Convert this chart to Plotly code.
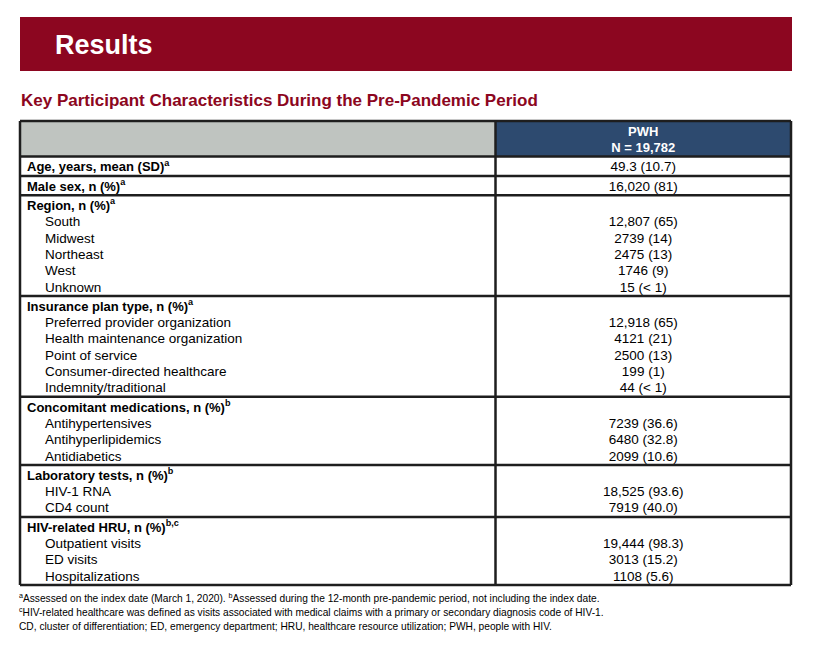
import plotly.graph_objects as go

# ---------------- data ----------------
col_header = ["PWH", "N = 19,782"]

group_titles = ["Age, years, mean (SD)", "Male sex, n (%)", "Region, n (%)",
                "Insurance plan type, n (%)", "Concomitant medications, n (%)",
                "Laboratory tests, n (%)", "HIV-related HRU, n (%)"]
group_notes = ["a", "a", "a", "a", "b", "b", "b,c"]
group_values = ["49.3 (10.7)", "16,020 (81)", "", "", "", "", ""]

region_labels = ["South", "Midwest", "Northeast", "West", "Unknown"]
region_values = ["12,807 (65)", "2739 (14)", "2475 (13)", "1746 (9)", "15 (< 1)"]

insurance_labels = ["Preferred provider organization", "Health maintenance organization",
                    "Point of service", "Consumer-directed healthcare", "Indemnity/traditional"]
insurance_values = ["12,918 (65)", "4121 (21)", "2500 (13)", "199 (1)", "44 (< 1)"]

medication_labels = ["Antihypertensives", "Antihyperlipidemics", "Antidiabetics"]
medication_values = ["7239 (36.6)", "6480 (32.8)", "2099 (10.6)"]

lab_labels = ["HIV-1 RNA", "CD4 count"]
lab_values = ["18,525 (93.6)", "7919 (40.0)"]

hru_labels = ["Outpatient visits", "ED visits", "Hospitalizations"]
hru_values = ["19,444 (98.3)", "3013 (15.2)", "1108 (5.6)"]

sub_labels = [[], [], region_labels, insurance_labels, medication_labels, lab_labels, hru_labels]
sub_values = [[], [], region_values, insurance_values, medication_values, lab_values, hru_values]

title_text = "Results"
subtitle_text = "Key Participant Characteristics During the Pre-Pandemic Period"
footnotes = [
    "<sup>a</sup>Assessed on the index date (March 1, 2020). <sup>b</sup>Assessed during the 12-month pre-pandemic period, not including the index date.",
    "<sup>c</sup>HIV-related healthcare was defined as visits associated with medical claims with a primary or secondary diagnosis code of HIV-1.",
    "CD, cluster of differentiation; ED, emergency department; HRU, healthcare resource utilization; PWH, people with HIV.",
]

# ---------------- layout / style ----------------
W, H = 822, 648
OFF = 8  # page body margin, so axis units equal screen pixels
FONT = "Liberation Sans, Arial, sans-serif"
RED = "#8c0620"
NAVY = "#2d4a6f"
GRAY = "#bfc4c0"
LINE = "#1e1e1e"

X0, X1, XC = 20, 791, 495.5
Y0 = 121
LH = 16.3
PAD = 3
LABEL_X, SUB_X = 27, 45
VAL_X = (XC + X1) / 2

# row boundaries derived from line counts
bounds = [Y0, Y0 + len(col_header) * LH + PAD]
for subs in sub_labels:
    bounds.append(bounds[-1] + (1 + len(subs)) * LH + PAD)

def line_y(top, i):
    return top + PAD / 2 + (i + 0.5) * LH + 1.8

hx, hy, ht = [], [], []
sx, sy, st = [], [], []
vx, vy, vt = [], [], []
for g, (t, n, v) in enumerate(zip(group_titles, group_notes, group_values)):
    top = bounds[g + 1]
    hy.append(line_y(top, 0)); hx.append(LABEL_X)
    ht.append(f"<b>{t}</b><sup><b>{n}</b></sup>")
    vy.append(line_y(top, 0)); vx.append(VAL_X); vt.append(v)
    for i, (sl, sv) in enumerate(zip(sub_labels[g], sub_values[g])):
        sy.append(line_y(top, i + 1)); sx.append(SUB_X); st.append(sl)
        vy.append(line_y(top, i + 1)); vx.append(VAL_X); vt.append(sv)

cy = [line_y(bounds[0], i) for i in range(len(col_header))]

fig = go.Figure()
common = dict(mode="text", hoverinfo="skip", cliponaxis=False, showlegend=False)
fig.add_trace(go.Scatter(x=hx, y=hy, text=ht, textposition="middle right",
                         textfont=dict(family=FONT, size=13, color="#000"), **common))
fig.add_trace(go.Scatter(x=sx, y=sy, text=st, textposition="middle right",
                         textfont=dict(family=FONT, size=13.5, color="#000"), **common))
fig.add_trace(go.Scatter(x=vx, y=vy, text=vt, textposition="middle center",
                         textfont=dict(family=FONT, size=13.5, color="#000"), **common))
fig.add_trace(go.Scatter(x=[VAL_X] * len(col_header), y=cy,
                         text=[f"<b>{c}</b>" for c in col_header], textposition="middle center",
                         textfont=dict(family=FONT, size=13, color="#fff"), **common))

shapes = []
# banner
shapes.append(dict(type="rect", x0=20, x1=792, y0=17, y1=71, fillcolor=RED,
                   line=dict(width=0), layer="below"))
# header fills
shapes.append(dict(type="rect", x0=X0, x1=XC, y0=bounds[0], y1=bounds[1], fillcolor=GRAY,
                   line=dict(width=0), layer="below"))
shapes.append(dict(type="rect", x0=XC, x1=X1, y0=bounds[0], y1=bounds[1], fillcolor=NAVY,
                   line=dict(width=0), layer="below"))
# horizontal rules
for b in bounds:
    shapes.append(dict(type="line", x0=X0, x1=X1, y0=b, y1=b, line=dict(color=LINE, width=2.5)))
# vertical rules
for xv in (X0, XC, X1):
    shapes.append(dict(type="line", x0=xv, x1=xv, y0=bounds[0], y1=bounds[-1],
                       line=dict(color=LINE, width=2.5)))

annotations = [
    dict(x=53, y=45, text=f"<b>{title_text}</b>", showarrow=False, xanchor="left",
         yanchor="middle", font=dict(family=FONT, size=27, color="#fff")),
    dict(x=19, y=100, text=f"<b>{subtitle_text}</b>", showarrow=False, xanchor="left",
         yanchor="middle", font=dict(family=FONT, size=17, color=RED)),
]
for i, fn in enumerate(footnotes):
    annotations.append(dict(x=17, y=598 + 14 * i, text=fn, showarrow=False, xanchor="left",
                            yanchor="middle", font=dict(family=FONT, size=10.2, color="#000")))

fig.update_layout(
    width=W, height=H, margin=dict(l=0, r=0, t=0, b=0),
    paper_bgcolor="#fff", plot_bgcolor="#fff",
    xaxis=dict(range=[OFF, W + OFF], visible=False, fixedrange=True),
    yaxis=dict(range=[H + OFF, OFF], visible=False, fixedrange=True),
    shapes=shapes, annotations=annotations, showlegend=False,
)
fig.write_html("out.html")
